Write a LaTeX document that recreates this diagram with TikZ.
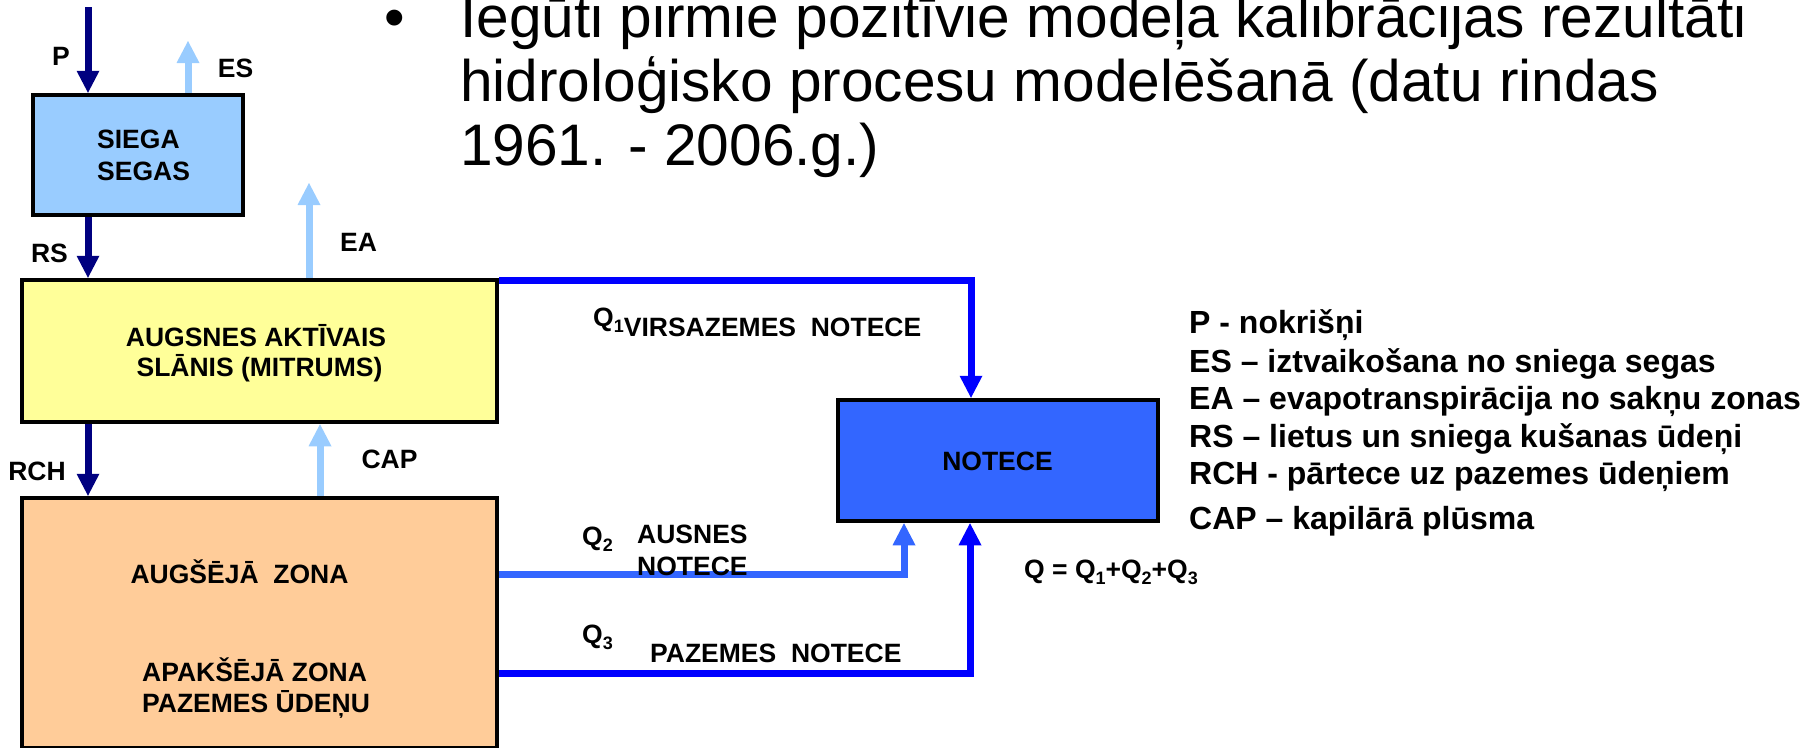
\documentclass[tikz,border=0pt]{standalone}
\usepackage{fontspec}
\setmainfont{Liberation Sans}
\usetikzlibrary{arrows.meta}

\definecolor{navyflow}{HTML}{000080}
\definecolor{paleflow}{HTML}{99CCFF}
\definecolor{snowfill}{HTML}{99CCFF}
\definecolor{soilfill}{HTML}{FFFF99}
\definecolor{groundfill}{HTML}{FFCC99}
\definecolor{runofffill}{HTML}{3366FF}
\definecolor{runoffblue}{HTML}{0000FF}
\definecolor{soilrunoff}{HTML}{3366FF}

% subscript index as used in the runoff labels
\newcommand{\qidx}[1]{\raisebox{-6pt}{\fontsize{18}{18}\selectfont #1}}

\tikzset{
  flowtip/.style={-{Triangle[width=23pt,length=22pt,line width=0pt]}},
  downflow/.style={flowtip, draw=navyflow, line width=7pt},
  upflow/.style={flowtip, draw=paleflow, line width=7pt},
  runoff/.style={flowtip, draw=runoffblue, line width=7pt},
  soilflow/.style={flowtip, draw=soilrunoff, line width=7pt},
  store/.style={draw=black, line width=4.5pt, inner sep=0pt},
  lbl/.style={font=\fontsize{26.5}{31}\selectfont\bfseries, inner sep=0pt, anchor=base},
  lblw/.style={lbl, anchor=base west},
  legend/.style={font=\fontsize{32}{38}\selectfont\bfseries, inner sep=0pt, anchor=base west},
  headline/.style={font=\fontsize{58.6}{64}\selectfont, inner sep=0pt, anchor=base west},
}

\begin{document}
\begin{tikzpicture}[x=1pt,y=-1pt]
\useasboundingbox (0,0) rectangle (1812,747);
\clip (0,0) rectangle (1812,747);

% bullet heading
\node[headline, anchor=base] (bullet) at (395,37) {•};
\node[headline] (head1) at (460,37) {Iegūti pirmie pozitīvie modeļa kalibrācijas rezultāti};
\node[headline] (head2) at (460,101) {hidroloģisko procesu modelēšanā (datu rindas};
\node[headline] (head3) at (460,165) {1961. - 2006.g.)};

% storages
\node[store, fill=snowfill, minimum width=210pt, minimum height=120pt] (siega) at (138,155) {};
\node[store, fill=soilfill, minimum width=475pt, minimum height=142pt] (augsne) at (259.5,351) {};
\node[store, fill=groundfill, minimum width=475pt, minimum height=250pt] (grunts) at (259.5,623) {};
\node[store, fill=runofffill, minimum width=320pt, minimum height=121pt] (notece) at (998,460.5) {};

% texts inside the storages
\node[lblw] (siega1) at (97,148) {SIEGA};
\node[lblw] (siega2) at (97,180) {SEGAS};
\node[lbl] (augsne1) at (256,346) {AUGSNES AKTĪVAIS};
\node[lbl] (augsne2) at (259.5,376.5) {SLĀNIS (MITRUMS)};
\node[lbl] (augsza) at (239.5,583) {AUGŠĒJĀ\ \ ZONA};
\node[lblw] (apaksza1) at (142,681.5) {APAKŠĒJĀ ZONA};
\node[lblw] (apaksza2) at (142,712) {PAZEMES ŪDEŅU};
\node[lbl] (notecetxt) at (997.5,470) {NOTECE};

% vertical exchanges
\coordinate (ptop) at (88,7);
\coordinate (estop) at (188,41);
\coordinate (eatop) at (309,183);
\coordinate (capx) at (320,460);
\draw[downflow] (ptop) -- (ptop |- siega.north);
\draw[upflow] (siega.north -| estop) -- (estop);
\draw[downflow] (siega.south -| ptop) -- (augsne.north -| ptop);
\draw[upflow] (augsne.north -| eatop) -- (eatop);
\draw[downflow] (augsne.south -| ptop) -- (grunts.north -| ptop);
\draw[upflow] (grunts.north -| capx) -- (augsne.south -| capx);

\node[lbl] (plbl) at (61,65.5) {P};
\node[lbl] (eslbl) at (235.5,77.5) {ES};
\node[lbl] (rslbl) at (49.5,262.5) {RS};
\node[lbl] (ealbl) at (358.5,251.5) {EA};
\node[lbl] (rchlbl) at (37,480.5) {RCH};
\node[lbl] (caplbl) at (389.5,468.5) {CAP};

% runoff components
\coordinate (q1bend) at (971,280.5);
\coordinate (q2bend) at (904,574.5);
\coordinate (q3bend) at (970,673);
\draw[runoff, line join=miter] (augsne.east |- q1bend) -- (q1bend) -- (notece.north -| q1bend);
\draw[soilflow, line join=miter] (grunts.east |- q2bend) -- (q2bend) -- (notece.south -| q2bend);
\draw[runoff, line join=miter] (grunts.east |- q3bend) -- (q3bend) -- (notece.south -| q3bend);

\node[lblw] (q1lbl) at (593,336) {\raisebox{10pt}{Q\qidx{1}}VIRSAZEMES\ \ NOTECE};
\node[lblw] (q2lbl) at (582,545) {Q\qidx{2}};
\node[lblw] (q2txt1) at (637,543) {AUSNES};
\node[lblw] (q2txt2) at (637,575) {NOTECE};
\node[lblw] (q3lbl) at (582,643) {Q\qidx{3}};
\node[lblw] (q3txt) at (650,662) {PAZEMES\ \ NOTECE};
\node[lblw] (qsum) at (1024,578) {Q = Q\qidx{1}+Q\qidx{2}+Q\qidx{3}};

% legend
\node[legend] (leg1) at (1189,333) {P - nokrišņi};
\node[legend] (leg2) at (1189,372) {ES – iztvaikošana no sniega segas};
\node[legend] (leg3) at (1189,409) {EA – evapotranspirācija no sakņu zonas};
\node[legend] (leg4) at (1189,447) {RS – lietus un sniega kušanas ūdeņi};
\node[legend] (leg5) at (1189,484) {RCH - pārtece uz pazemes ūdeņiem};
\node[legend] (leg6) at (1189,529) {CAP – kapilārā plūsma};
\end{tikzpicture}
\end{document}
